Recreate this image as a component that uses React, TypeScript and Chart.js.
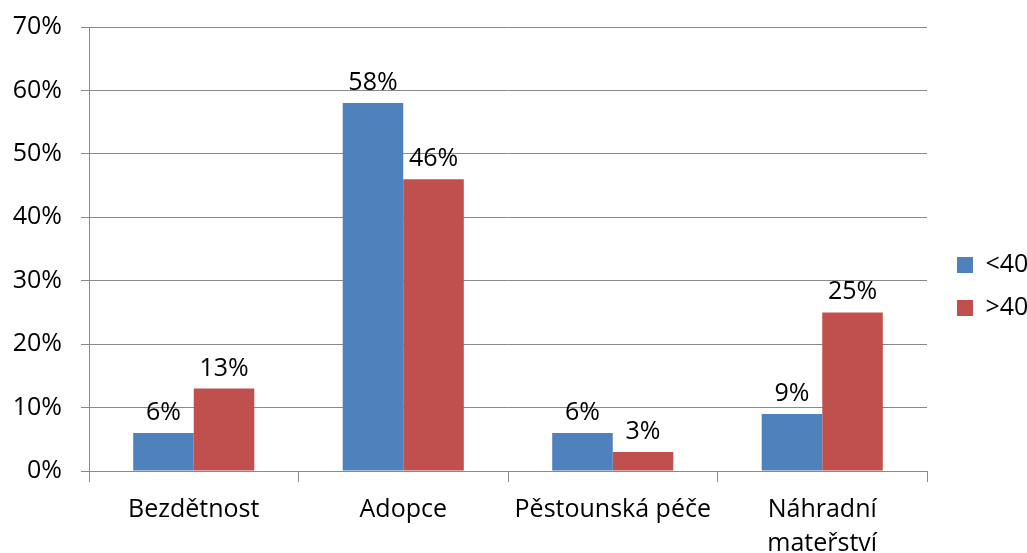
import React, { useEffect, useRef } from "react";
import { Chart, registerables } from "chart.js";

Chart.register(...registerables);

const categories: (string | string[])[] = [
  "Bezdětnost",
  "Adopce",
  "Pěstounská péče",
  ["Náhradní", "mateřství"],
];
const seriesNames = ["<40", ">40"];
const under40 = [6, 58, 6, 9];
const over40 = [13, 46, 3, 25];
const yTicks = [0, 10, 20, 30, 40, 50, 60, 70];

const FONT = '"Open Sans", "DejaVu Sans", sans-serif';
const GRID = "#898989";

export default function App() {
  const ref = useRef<HTMLCanvasElement | null>(null);

  useEffect(() => {
    if (!ref.current) return;

    const valueLabels = {
      id: "valueLabels",
      afterDatasetsDraw(chart: any) {
        const ctx = chart.ctx;
        ctx.save();
        ctx.font = `25px ${FONT}`;
        ctx.fillStyle = "#000";
        ctx.textAlign = "center";
        ctx.textBaseline = "alphabetic";
        chart.data.datasets.forEach((ds: any, di: number) => {
          const meta = chart.getDatasetMeta(di);
          meta.data.forEach((bar: any, i: number) => {
            ctx.fillText(`${ds.data[i]}%`, bar.x, bar.y - 13);
          });
        });
        ctx.restore();
      },
    };

    const legendFix = {
      id: "legendFix",
      beforeLayout(chart: any) {
        const lg = chart.legend;
        if (lg && !lg.__patched) {
          const orig = lg.fit.bind(lg);
          lg.fit = function () {
            orig();
            lg.width = 100;
          };
          lg.__patched = true;
        }
      },
      afterLayout(chart: any) {
        const lg = chart.legend;
        if (lg) {
          lg.left = 957 - 18;
          lg.top = 234.5;
        }
      },
    };

    const chart = new Chart(ref.current, {
      type: "bar",
      data: {
        labels: categories,
        datasets: [
          {
            label: seriesNames[0],
            data: under40,
            backgroundColor: "#4F81BD",
            categoryPercentage: 0.578,
            barPercentage: 1,
          },
          {
            label: seriesNames[1],
            data: over40,
            backgroundColor: "#C0504D",
            categoryPercentage: 0.578,
            barPercentage: 1,
          },
        ],
      },
      options: {
        responsive: false,
        animation: false,
        layout: { padding: { top: 27, left: 0, right: 0, bottom: 0 } },
        plugins: {
          tooltip: { enabled: false },
          legend: {
            position: "right",
            align: "start",
            labels: {
              boxWidth: 16,
              boxHeight: 16,
              padding: 18,
              color: "#000",
              font: { family: FONT, size: 25 },
            },
          },
        },
        scales: {
          x: {
            afterFit(s: any) {
              s.height = 82;
              s.paddingLeft = 0;
              s.paddingRight = 0;
            },
            grid: {
              display: true,
              drawOnChartArea: false,
              drawTicks: true,
              tickLength: 11,
              color: GRID,
              offset: true,
            },
            border: { display: true, color: GRID },
            ticks: {
              color: "#000",
              padding: 11,
              maxRotation: 0,
              autoSkip: false,
              font: { family: FONT, size: 25, lineHeight: 1.35 },
            },
          },
          y: {
            min: 0,
            max: 70,
            afterFit(s: any) {
              s.width = 89;
              s.paddingTop = 0;
              s.paddingBottom = 0;
            },
            afterBuildTicks(s: any) {
              s.ticks = yTicks.map((v) => ({ value: v }));
            },
            grid: {
              color: GRID,
              tickLength: 8,
            },
            border: { display: true, color: GRID },
            ticks: {
              color: "#000",
              padding: 19,
              font: { family: FONT, size: 25 },
              callback: (v: any) => `${v}%`,
            },
          },
        },
      },
      plugins: [valueLabels, legendFix],
    });

    return () => chart.destroy();
  }, []);

  return (
    <div style={{ position: "absolute", left: 0, top: 0, width: 1027, height: 553 }}>
      <canvas ref={ref} width={1027} height={553} />
    </div>
  );
}
